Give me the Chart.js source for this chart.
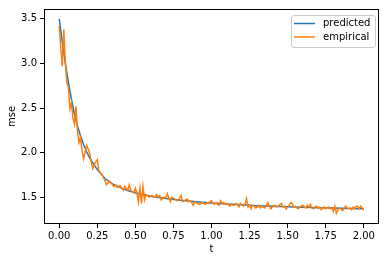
<!DOCTYPE html>
<html><head><meta charset="utf-8">
<script src="https://cdn.jsdelivr.net/npm/chart.js@4"></script>
<style>html,body{margin:0;padding:0;background:#fff}#wrap{width:386px;height:262px}</style>
</head><body><div id="wrap"><canvas id="c" width="386" height="262"></canvas></div>
<script>
// predicted curve (t, mse)
const predT = [0,0.02,0.04,0.06,0.08,0.1,0.12,0.14,0.16,0.18,0.2,0.25,0.3,0.35,0.4,0.45,0.5,0.6,0.7,0.8,0.9,1.0,1.1,1.2,1.3,1.4,1.5,1.6,1.7,1.8,1.9,2.0];
const predY = [3.50,3.24,3.00,2.79,2.60,2.43,2.30,2.19,2.09,2.01,1.94,1.81,1.71,1.65,1.61,1.575,1.55,1.51,1.485,1.465,1.45,1.435,1.425,1.415,1.405,1.398,1.392,1.387,1.382,1.378,1.374,1.37];
// empirical curve, t = 0.00, 0.01, ..., 2.00
const empT = [0,0.01,0.02,0.03,0.04,0.05,0.06,0.07,0.08,0.09,0.1,0.11,0.12,0.13,0.14,0.15,0.16,0.17,0.18,0.19,0.2,0.21,0.22,0.23,0.24,0.25,0.26,0.27,0.28,0.29,0.3,0.31,0.32,0.33,0.34,0.35,0.36,0.37,0.38,0.39,0.4,0.41,0.42,0.43,0.44,0.45,0.46,0.47,0.48,0.49,0.5,0.51,0.52,0.53,0.54,0.55,0.56,0.57,0.58,0.59,0.6,0.61,0.62,0.63,0.64,0.65,0.66,0.67,0.68,0.69,0.7,0.71,0.72,0.73,0.74,0.75,0.76,0.77,0.78,0.79,0.8,0.81,0.82,0.83,0.84,0.85,0.86,0.87,0.88,0.89,0.9,0.91,0.92,0.93,0.94,0.95,0.96,0.97,0.98,0.99,1.0,1.01,1.02,1.03,1.04,1.05,1.06,1.07,1.08,1.09,1.1,1.11,1.12,1.13,1.14,1.15,1.16,1.17,1.18,1.19,1.2,1.21,1.22,1.23,1.24,1.25,1.26,1.27,1.28,1.29,1.3,1.31,1.32,1.33,1.34,1.35,1.36,1.37,1.38,1.39,1.4,1.41,1.42,1.43,1.44,1.45,1.46,1.47,1.48,1.49,1.5,1.51,1.52,1.53,1.54,1.55,1.56,1.57,1.58,1.59,1.6,1.61,1.62,1.63,1.64,1.65,1.66,1.67,1.68,1.69,1.7,1.71,1.72,1.73,1.74,1.75,1.76,1.77,1.78,1.79,1.8,1.81,1.82,1.83,1.84,1.85,1.86,1.87,1.88,1.89,1.9,1.91,1.92,1.93,1.94,1.95,1.96,1.97,1.98,1.99,2.0];
const empY = [
  3.42,3.18,2.97,3.38,3.02,2.78,2.74,2.49,2.56,2.38,
  2.32,2.52,2.24,2.11,2.17,2.02,1.93,2.00,2.08,2.04,
  1.99,1.90,1.82,1.86,1.90,1.92,1.80,1.77,1.76,1.72,
  1.69,1.64,1.66,1.68,1.66,1.64,1.62,1.64,1.61,1.62,
  1.63,1.60,1.58,1.62,1.60,1.58,1.64,1.58,1.56,1.55,
  1.60,1.55,1.45,1.60,1.43,1.62,1.47,1.53,1.52,1.50,
  1.51,1.52,1.50,1.51,1.53,1.50,1.52,1.47,1.49,1.50,
  1.49,1.54,1.49,1.45,1.50,1.49,1.48,1.46,1.47,1.49,
  1.52,1.45,1.46,1.47,1.48,1.45,1.46,1.44,1.41,1.45,
  1.44,1.43,1.42,1.43,1.44,1.43,1.42,1.44,1.43,1.45,
  1.46,1.43,1.42,1.44,1.42,1.41,1.46,1.43,1.44,1.42,
  1.43,1.42,1.40,1.42,1.41,1.41,1.43,1.42,1.39,1.43,
  1.41,1.40,1.42,1.485,1.39,1.41,1.37,1.41,1.40,1.38,
  1.39,1.41,1.38,1.40,1.39,1.38,1.41,1.44,1.40,1.37,
  1.39,1.41,1.40,1.39,1.40,1.42,1.43,1.39,1.40,1.37,
  1.39,1.41,1.44,1.43,1.39,1.40,1.38,1.37,1.39,1.40,
  1.41,1.39,1.38,1.41,1.39,1.42,1.38,1.37,1.39,1.40,
  1.38,1.39,1.36,1.38,1.39,1.37,1.38,1.39,1.37,1.38,
  1.34,1.40,1.32,1.36,1.38,1.37,1.35,1.37,1.40,1.38,
  1.37,1.38,1.36,1.39,1.37,1.40,1.40,1.37,1.40,1.38,
  1.355
];
const xTicks = [0,0.25,0.5,0.75,1.0,1.25,1.5,1.75,2.0];
const yTicks = [1.5,2.0,2.5,3.0,3.5];
const seriesNames = ['predicted','empirical'];
const seriesColors = ['#1f77b4','#ff7f0e'];

const FONT = "'DejaVu Sans', sans-serif";
const frame = {
  id:'frame',
  afterDatasetsDraw(chart){
    const {ctx, chartArea:a} = chart;
    ctx.save();
    ctx.strokeStyle = '#000'; ctx.lineWidth = 1;
    ctx.strokeRect(Math.round(a.left)+0.5, Math.round(a.top)+0.5, Math.round(a.right-a.left)-1, Math.round(a.bottom-a.top)-1);
    // legend
    const bx = a.right - 88, by = a.top + 6, bw = 84, bh = 32;
    ctx.fillStyle = 'rgba(255,255,255,0.8)';
    ctx.strokeStyle = '#cccccc';
    ctx.beginPath();
    ctx.roundRect(bx+0.5, by+0.5, bw, bh, 2.5);
    ctx.fill(); ctx.stroke();
    ctx.font = '10px ' + FONT;
    ctx.textBaseline = 'middle';
    chart.data.datasets.forEach((ds,i)=>{
      const yy = by + 8.5 + i*13.5;
      ctx.strokeStyle = ds.borderColor; ctx.lineWidth = 1.5;
      ctx.beginPath(); ctx.moveTo(bx+3, yy); ctx.lineTo(bx+24, yy); ctx.stroke();
      ctx.fillStyle = '#000';
      ctx.fillText(ds.label, bx+32, yy);
    });
    ctx.restore();
  }
};

new Chart(document.getElementById('c'), {
  type:'line',
  data:{datasets:[
    {label:seriesNames[0], order:1, data:predT.map((t,i)=>({x:t,y:predY[i]})), borderColor:seriesColors[0], borderWidth:1.5, pointRadius:0, tension:0, fill:false},
    {label:seriesNames[1], order:0, data:empT.map((t,i)=>({x:t,y:empY[i]})), borderColor:seriesColors[1], borderWidth:1.5, pointRadius:0, tension:0, fill:false}
  ]},
  options:{
    responsive:false, animation:false, devicePixelRatio:1,
    layout:{padding:{top:6,right:7,left:0,bottom:0}},
    plugins:{legend:{display:false}, tooltip:{enabled:false}},
    scales:{
      x:{type:'linear', min:-0.1, max:2.1,
        afterBuildTicks(s){ s.ticks = xTicks.map(v=>({value:v})); },
        afterFit(s){ s.height = 38; },
        grid:{display:true, drawOnChartArea:false, drawTicks:true, tickLength:4, color:'#000', lineWidth:1},
        border:{display:false},
        ticks:{font:{family:FONT,size:10}, color:'#000', padding:2, maxRotation:0, autoSkip:false, callback:(v)=>Number(v).toFixed(2)},
        title:{display:true, text:'t', font:{family:FONT,size:10}, color:'#000', padding:{top:1,bottom:7}}
      },
      y:{type:'linear', min:1.2, max:3.61,
        afterBuildTicks(s){ s.ticks = yTicks.map(v=>({value:v})); },
        afterFit(s){ s.width = 44; },
        grid:{display:true, drawOnChartArea:false, drawTicks:true, tickLength:4, color:'#000', lineWidth:1},
        border:{display:false},
        ticks:{font:{family:FONT,size:10}, color:'#000', padding:3, autoSkip:false, callback:(v)=>Number(v).toFixed(1)},
        title:{display:true, text:'mse', font:{family:FONT,size:10}, color:'#000', padding:{top:6,bottom:2}}
      }
    }
  },
  plugins:[frame]
});
</script></body></html>
